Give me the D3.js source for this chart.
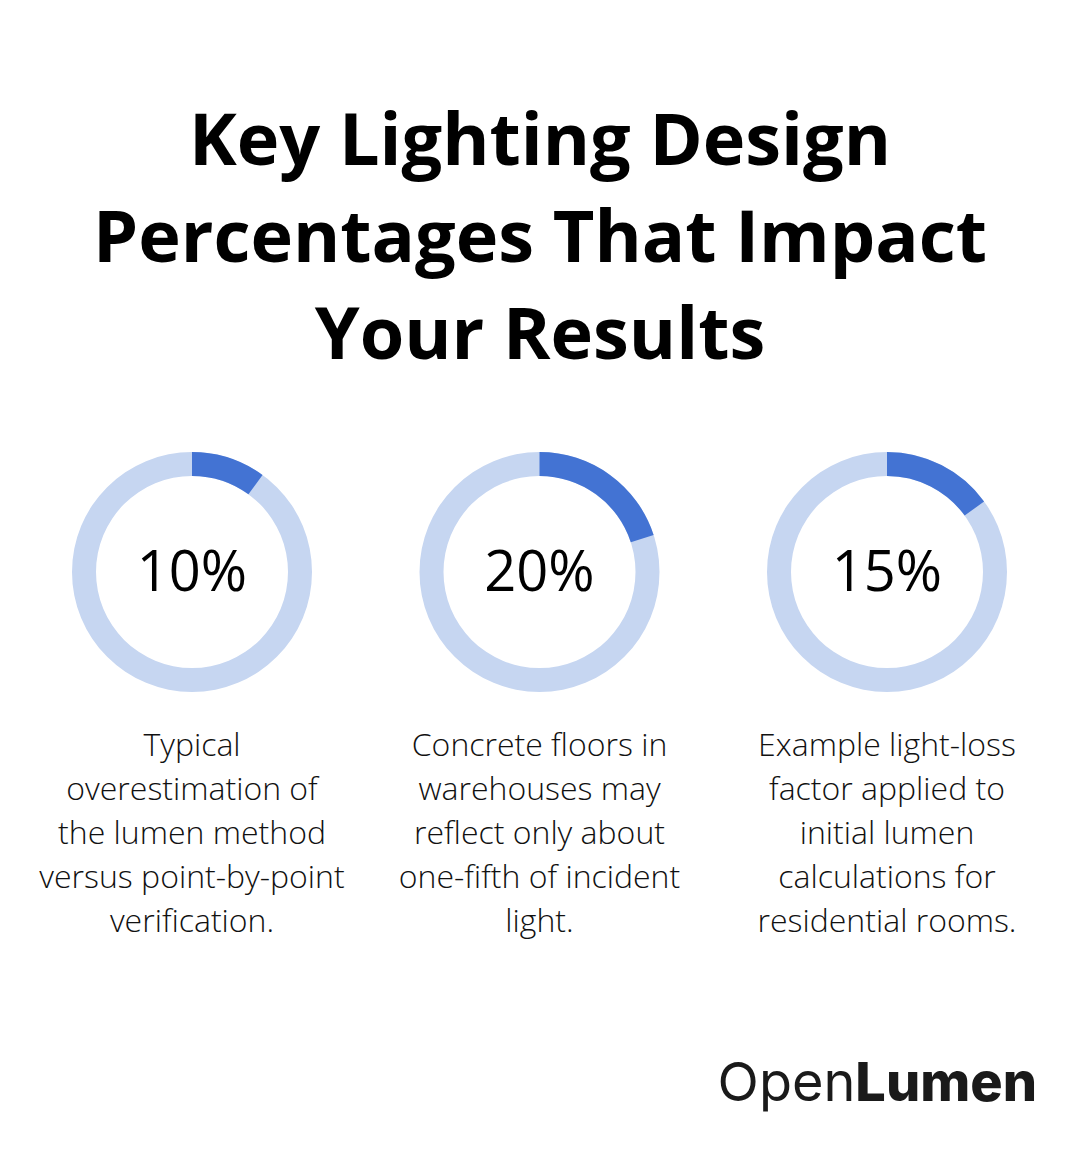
<!DOCTYPE html>
<html>
<head>
<meta charset="utf-8">
<script src="https://cdn.jsdelivr.net/npm/d3@7"></script>
<style>
  body { margin: 0; background: #fff; }
</style>
</head>
<body>
<div id="chart"></div>
<script>
// Data
const titleLines = ["Key Lighting Design", "Percentages That Impact", "Your Results"];
const percents = [10, 20, 15];
const labels = ["10%", "20%", "15%"];
const descriptions = [
  ["Typical", "overestimation of", "the lumen method", "versus point-by-point", "verification."],
  ["Concrete floors in", "warehouses may", "reflect only about", "one-fifth of incident", "light."],
  ["Example light-loss", "factor applied to", "initial lumen", "calculations for", "residential rooms."]
];

const width = 1080;
const height = 1168;

const svg = d3.select("#chart")
  .append("svg")
  .attr("width", width)
  .attr("height", height);

// Title
svg.append("g")
  .selectAll("text")
  .data(titleLines)
  .join("text")
  .attr("x", width / 2)
  .attr("y", (d, i) => 165 + i * 97)
  .attr("text-anchor", "middle")
  .attr("font-family", "'Open Sans', sans-serif")
  .attr("font-weight", 700)
  .attr("font-size", 72)
  .attr("fill", "#000")
  .text(d => d);

// One column per stat
const xScale = d3.scalePoint()
  .domain(d3.range(percents.length))
  .range([192, 887]);

const angle = d3.scaleLinear().domain([0, 100]).range([0, 2 * Math.PI]);

const arc = d3.arc()
  .innerRadius(96)
  .outerRadius(120);

const cy = 572;

const cols = svg.selectAll("g.stat")
  .data(percents)
  .join("g")
  .attr("class", "stat")
  .attr("transform", (d, i) => `translate(${xScale(i)},${cy})`);

// Background ring
cols.append("path")
  .attr("d", arc({ startAngle: 0, endAngle: 2 * Math.PI }))
  .attr("fill", "#c6d6f1");

// Value arc
cols.append("path")
  .attr("d", d => arc({ startAngle: 0, endAngle: angle(d) }))
  .attr("fill", "#4373d3");

cols.append("text")
  .attr("y", 19)
  .attr("text-anchor", "middle")
  .attr("font-family", "'Open Sans', sans-serif")
  .attr("font-weight", 500)
  .attr("font-size", 56)
  .attr("fill", "#000")
  .text((d, i) => labels[i]);

// Descriptions
cols.append("g")
  .selectAll("text")
  .data((d, i) => descriptions[i])
  .join("text")
  .attr("y", (d, j) => 184 + j * 44)
  .attr("text-anchor", "middle")
  .attr("font-family", "'Open Sans', sans-serif")
  .attr("font-weight", 300)
  .attr("font-size", 32)
  .attr("fill", "#111")
  .text(d => d);

// Logo
const logo = svg.append("text")
  .attr("x", 1037)
  .attr("y", 1101)
  .attr("text-anchor", "end")
  .attr("font-family", "Inter, sans-serif")
  .attr("font-size", 54)
  .attr("fill", "#1a1a1a");
logo.append("tspan").attr("font-weight", 400).text("Open");
logo.append("tspan").attr("font-weight", 800).text("Lumen");
</script>
</body>
</html>
